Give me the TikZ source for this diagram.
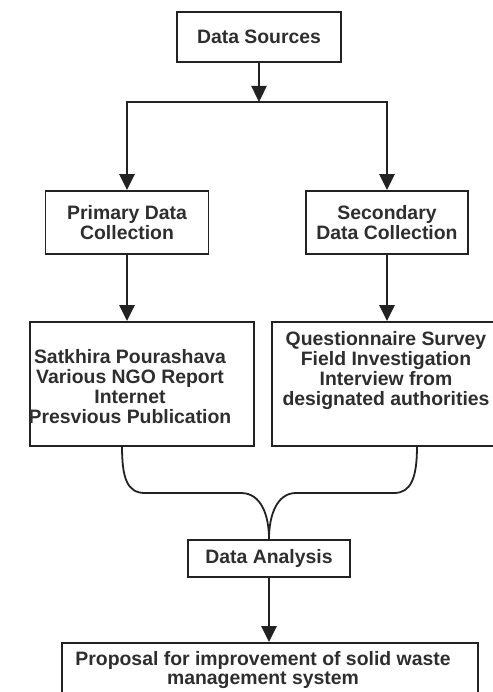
\documentclass[tikz,border=0pt]{standalone}
\usepackage{fontspec}
\setmainfont{Liberation Sans}
\usetikzlibrary{arrows.meta}
\definecolor{ink}{HTML}{222222}
\definecolor{txt}{HTML}{2E2E2E}
\begin{document}
\begin{tikzpicture}[x=1pt,y=-1pt,
  box/.style={draw=ink, line width=1.8pt, fill=white, inner sep=0pt, align=center,
    text=txt, font=\fontsize{19.4}{20}\selectfont\bfseries},
  lbl/.style={inner sep=0pt, align=center, text=txt, font=\fontsize{19.4}{20}\selectfont\bfseries},
  arr/.style={draw=ink, line width=2.4pt, -{Triangle[width=15pt,length=16pt]}},
  plain/.style={draw=ink, line width=2.4pt},
  brline/.style={draw=ink, line width=1.8pt}]
\useasboundingbox (0,0) rectangle (492,692);

% boxes
\node[box, minimum width=164pt, minimum height=50pt] (src) at (259,37) {Data Sources};
\node[box, minimum width=163pt, minimum height=63pt] (prim) at (127,222.5) {Primary Data\\Collection};
\node[box, minimum width=162pt, minimum height=63pt] (sec) at (387,222.5) {Secondary\\Data Collection};
\node[box, minimum width=224pt, minimum height=124pt] (lbox) at (142,384) {};
\node[lbl] (ltext) at (130,387) {Satkhira Pourashava\\Various NGO Report\\Internet\\Presvious Publication};
\node[box, minimum width=224pt, minimum height=124pt] (rbox) at (384,384) {};
\node[lbl] (rtext) at (386,371) {Questionnaire Survey\\Field Investigation\\Interview from\\designated authorities};
\node[box, minimum width=162pt, minimum height=37pt] (da) at (269,558.5) {Data Analysis};
\node[box, minimum width=416pt, minimum height=57pt] (prop) at (270,671.5) {};
\node[lbl, font=\fontsize{19.4}{18.5}\selectfont\bfseries] (ptext) at (263,670) {Proposal for improvement of solid waste\\management system};

% connectors
\coordinate (jn) at (259,102);
\coordinate (jl) at (127,102);
\coordinate (jr) at (387,102);
\draw[arr] (src.south) -- (jn);
\draw[plain] ([xshift=-1.2pt]jl) -- ([xshift=1.2pt]jr);
\draw[arr] (jl) -- (prim.north);
\draw[arr] (jr) -- (sec.north);
\draw[arr] (prim.south) -- (prim.south |- lbox.north);
\draw[arr] (sec.south) -- (sec.south |- rbox.north);

\coordinate (lb) at (122,446);
\coordinate (rb) at (417,446);
\draw[brline] (lb) .. controls (122,478) and (127,493) .. (145,493) -- (241,493)
  .. controls (261,493) and (269,515) .. (da.north);
\draw[brline] (rb) .. controls (417,478) and (411,493) .. (394,493) -- (296,493)
  .. controls (277,493) and (269,515) .. (da.north);

\draw[arr] (da.south) -- (prop.north -| da.south);
\end{tikzpicture}
\end{document}
